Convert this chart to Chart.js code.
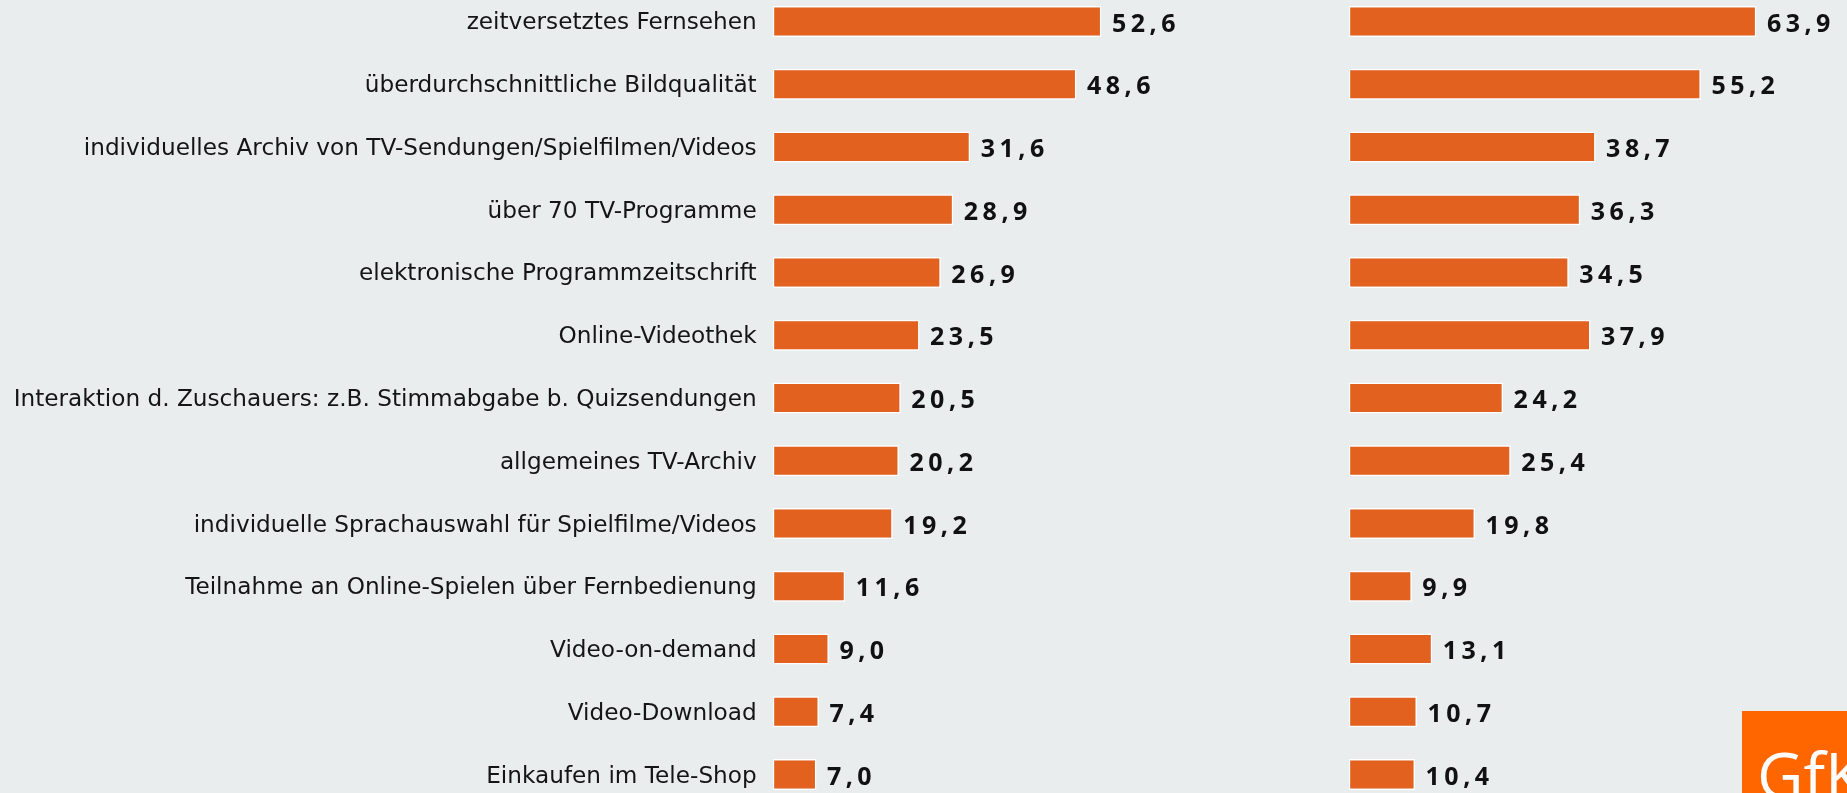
<!DOCTYPE html>
<html>
<head>
<meta charset="utf-8">
<script src="https://cdn.jsdelivr.net/npm/chart.js@4/dist/chart.umd.min.js"></script>
<style>
  html, body { margin: 0; padding: 0; width: 1847px; height: 793px; overflow: hidden; background: #E9EDEE; }
  #left { position: absolute; left: 0; top: -10.5px; }
  #right { position: absolute; left: 1340px; top: -10.5px; }
  #logo { position: absolute; left: 1742px; top: 711px; width: 105px; height: 82px; background: #FF6600; overflow: hidden; }
  #logo span { position: absolute; left: 15px; top: 32px; font-family: "Open Sans", sans-serif; font-size: 64px; line-height: 64px; color: #fff; white-space: nowrap; }
</style>
</head>
<body>
<canvas id="left" width="1230" height="816"></canvas>
<canvas id="right" width="507" height="816"></canvas>
<div id="logo"><span>GfK</span></div>
<script>
const categories = [
  "zeitversetztes Fernsehen",
  "überdurchschnittliche Bildqualität",
  "individuelles Archiv von TV-Sendungen/Spielfilmen/Videos",
  "über 70 TV-Programme",
  "elektronische Programmzeitschrift",
  "Online-Videothek",
  "Interaktion d. Zuschauers: z.B. Stimmabgabe b. Quizsendungen",
  "allgemeines TV-Archiv",
  "individuelle Sprachauswahl für Spielfilme/Videos",
  "Teilnahme an Online-Spielen über Fernbedienung",
  "Video-on-demand",
  "Video-Download",
  "Einkaufen im Tele-Shop"
];
const valuesLeft = [52.6, 48.6, 31.6, 28.9, 26.9, 23.5, 20.5, 20.2, 19.2, 11.6, 9.0, 7.4, 7.0];
const valuesRight = [63.9, 55.2, 38.7, 36.3, 34.5, 37.9, 24.2, 25.4, 19.8, 9.9, 13.1, 10.7, 10.4];

const BAR_COLOR = '#E2611F';

const valueLabels = {
  id: 'valueLabels',
  afterDatasetsDraw(chart) {
    const ctx = chart.ctx;
    const meta = chart.getDatasetMeta(0);
    const data = chart.data.datasets[0].data;
    ctx.save();
    ctx.font = 'bold 25px "Open Sans", sans-serif';
    ctx.fillStyle = '#111111';
    ctx.textBaseline = 'middle';
    ctx.textAlign = 'left';
    const spacing = 4.5;
    meta.data.forEach((bar, i) => {
      const txt = data[i].toFixed(1).replace('.', ',');
      let x = bar.x + 10.5;
      const y = bar.y + 3;
      for (const ch of txt) {
        ctx.fillText(ch, x, y);
        x += ctx.measureText(ch).width + spacing;
      }
    });
    ctx.restore();
  }
};

function makeChart(id, values, max, showLabels, padLeft) {
  return new Chart(document.getElementById(id), {
    type: 'bar',
    data: {
      labels: categories,
      datasets: [{
        data: values,
        backgroundColor: BAR_COLOR,
        borderColor: '#FFFFFF',
        borderWidth: 1.5,
        borderSkipped: false,
        barPercentage: 0.494,
        categoryPercentage: 1.0
      }]
    },
    options: {
      indexAxis: 'y',
      responsive: false,
      animation: false,
      devicePixelRatio: 1,
      layout: { padding: { left: padLeft, right: 0, top: 0, bottom: 0 } },
      plugins: { legend: { display: false }, tooltip: { enabled: false } },
      scales: {
        x: { display: false, min: 0, max: max },
        y: {
          display: showLabels,
          grid: { display: false },
          border: { display: false },
          ticks: {
            color: '#151515',
            padding: 8,
            labelOffset: 2,
            font: { family: '"DejaVu Sans", sans-serif', size: 23.2 },
            autoSkip: false
          },
          afterFit(scale) {
            if (showLabels) scale.width = 772.7;
            scale.paddingTop = 0;
            scale.paddingBottom = 0;
          }
        }
      }
    },
    plugins: [valueLabels]
  });
}

makeChart('left', valuesLeft, 73.17, true, 0);
makeChart('right', valuesRight, 78.1, false, 8.7);
</script>
</body>
</html>
